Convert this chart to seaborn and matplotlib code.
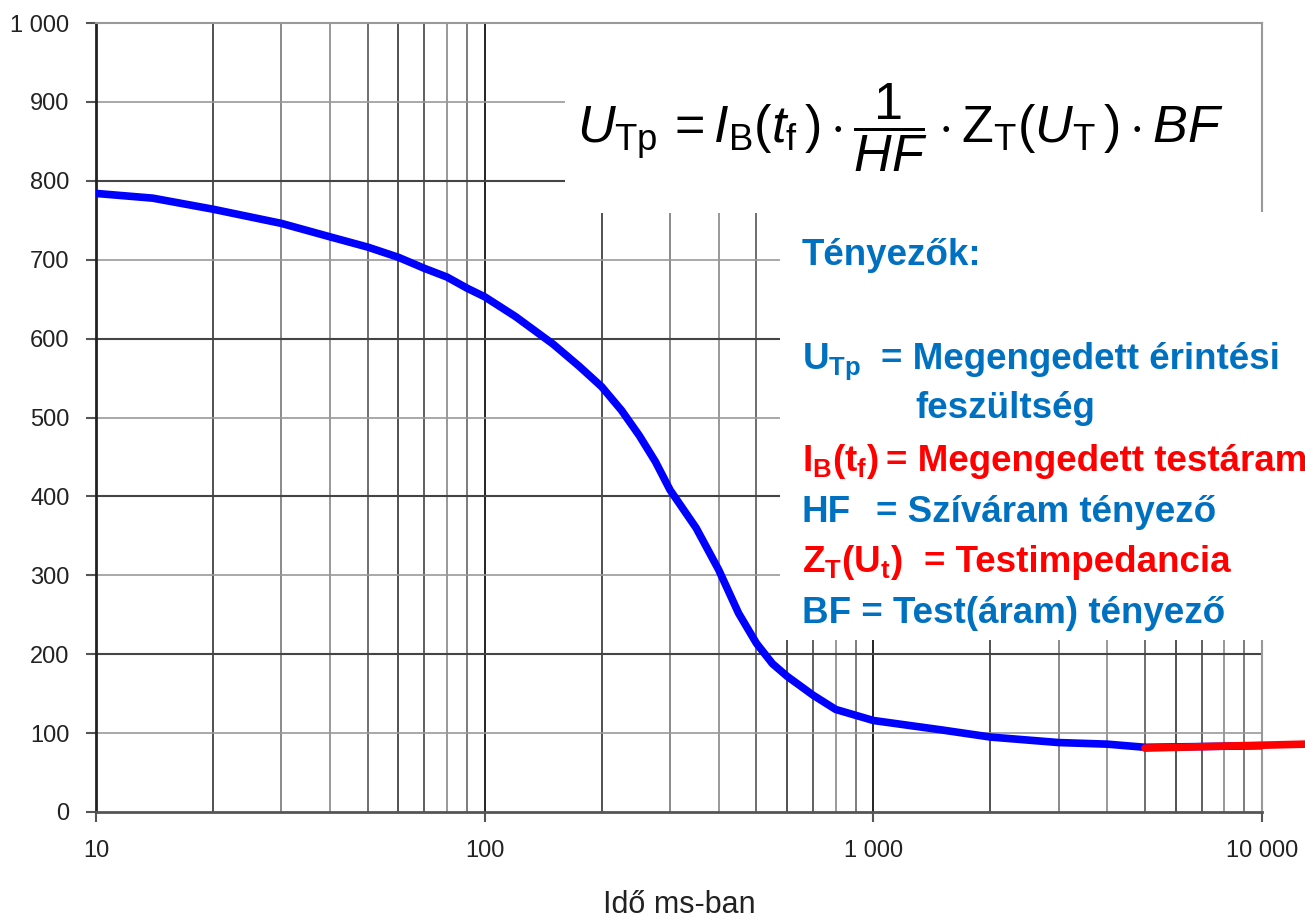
import matplotlib
matplotlib.use("Agg")
import matplotlib.pyplot as plt
import seaborn as sns
from matplotlib.patches import Rectangle

# ---- data ----
time_ms = [10, 14, 20, 30, 40, 50, 60, 70, 80, 90, 100, 120, 150, 175, 200,
           225, 250, 275, 300, 350, 400, 450, 500, 550, 600, 700, 800, 1000,
           1500, 2000, 3000, 4000, 5000, 10000]
u_tp = [784, 778, 764, 746, 729, 716, 703, 689, 678, 664, 653, 628, 593, 565,
        539, 509, 477, 444, 408, 360, 307, 252, 214, 188, 172, 148, 130, 116,
        104, 95, 88, 86, 82, 84]
red_time = [5000, 12900]
red_u = [81, 86]

x_ticks = [10, 100, 1000, 10000]
x_tick_labels = ["10", "100", "1 000", "10 000"]
y_ticks = [0, 100, 200, 300, 400, 500, 600, 700, 800, 900, 1000]
y_tick_labels = ["0", "100", "200", "300", "400", "500", "600", "700", "800",
                 "900", "1 000"]
x_label = "Idő ms-ban"

sns.set_style("white")
plt.rcParams['font.family'] = ['Liberation Sans', 'DejaVu Sans']
plt.rcParams['mathtext.fontset'] = 'custom'
plt.rcParams['mathtext.rm'] = 'Liberation Sans'
plt.rcParams['mathtext.it'] = 'Liberation Sans:italic'
plt.rcParams['mathtext.bf'] = 'Liberation Sans:bold'

W, H = 1305, 918
fig = plt.figure(figsize=(W / 100, H / 100), dpi=100)
ax = fig.add_axes([96 / W, 1 - 812 / H, 1166 / W, 789 / H])
ax.set_xscale('log')
ax.set_xlim(10, 10000)
ax.set_ylim(0, 1000)

# grid
shades = {2: '#333333', 3: '#777777', 4: '#888888', 5: '#555555',
          6: '#333333', 7: '#444444', 8: '#888888', 9: '#666666'}
for dec in [10, 100, 1000]:
    ax.axvline(dec, color='#222222', lw=1.4, zorder=1)
    for m in range(2, 10):
        ax.axvline(dec * m, color=shades[m], lw=1.2, zorder=1)
for v in y_ticks[1:-1]:
    ax.axhline(v, color='#444444' if v % 200 == 0 else '#999999',
               lw=1.5 if v % 200 == 0 else 1.2, zorder=1)

# white boxes hiding the grid
ax.add_patch(Rectangle((565 / W, 1 - 213 / H), (1262 - 565) / W, (213 - 23) / H,
                       transform=fig.transFigure, fc='white', ec='none', zorder=1.5))
ax.add_patch(Rectangle((780 / W, 1 - 640 / H), (1305 - 780) / W, (640 - 212) / H,
                       transform=fig.transFigure, fc='white', ec='none',
                       zorder=2.6, clip_on=False))

# curves
sns.lineplot(x=time_ms, y=u_tp, ax=ax, color='#0000FF', lw=5.5, zorder=3)
sns.lineplot(x=red_time, y=red_u, ax=ax, color='#FF0000', lw=5.5, zorder=3.5,
             clip_on=False)

# spines
ax.spines['left'].set_color('#222222'); ax.spines['left'].set_linewidth(2)
ax.spines['bottom'].set_color('#555555'); ax.spines['bottom'].set_linewidth(2)
for s in ['top', 'right']:
    ax.spines[s].set_color('#999999'); ax.spines[s].set_linewidth(1.5)

ax.set_xticks(x_ticks)
ax.set_xticklabels(x_tick_labels)
ax.minorticks_off()
ax.set_yticks(y_ticks)
ax.set_yticklabels(y_tick_labels)
ax.tick_params(axis='x', bottom=True, direction='out', length=7, width=1.5,
               color='#555555', pad=13, labelsize=17, labelcolor='#222222')
ax.tick_params(axis='y', left=True, direction='out', length=7, width=1.5,
               color='#555555', pad=12, labelsize=17, labelcolor='#222222')
ax.set_xlabel(x_label, fontsize=22, color='#222222')
ax.xaxis.set_label_coords(0.5, -0.099)

# formula
formula = (r"$U_{\mathrm{Tp}}\, = I_{\mathrm{B}}(t_{\mathrm{f}}\,)\cdot\dfrac{1}{HF}"
           r"\cdot \mathrm{Z}_{\mathrm{T}}(U_{\mathrm{T}}\,)\cdot BF$")
fig.text(900 / W, 1 - 128 / H, formula, fontsize=37.5, ha='center', va='center',
         color='black', zorder=5)

# factor list
blue = '#0070C0'
red = '#FF0000'
fs = 26.5
def put(x, y, s, c):
    fig.text(x / W, 1 - y / H, s, fontsize=fs, fontweight='bold', color=c,
             ha='left', va='baseline', zorder=5)

put(802, 265, "Tényezők:", blue)
put(802, 369, r"$\mathbf{U}_{\mathbf{Tp}}$", blue)
put(881, 369, "= Megengedett érintési", blue)
put(915, 418, "feszültség", blue)
put(802, 471, r"$\mathbf{I}_{\mathbf{B}}\mathbf{(t}_{\mathbf{f}}\mathbf{)}$", red)
put(886, 471, "= Megengedett testáram", red)
put(802, 522, "HF", blue)
put(876, 522, "= Szíváram tényező", blue)
put(802, 572, r"$\mathbf{Z}_{\mathbf{T}}\mathbf{(U}_{\mathbf{t}}\mathbf{)}$", red)
put(924, 572, "= Testimpedancia", red)
put(802, 623, "BF = Test(áram) tényező", blue)

fig.savefig("out.png", dpi=100)
